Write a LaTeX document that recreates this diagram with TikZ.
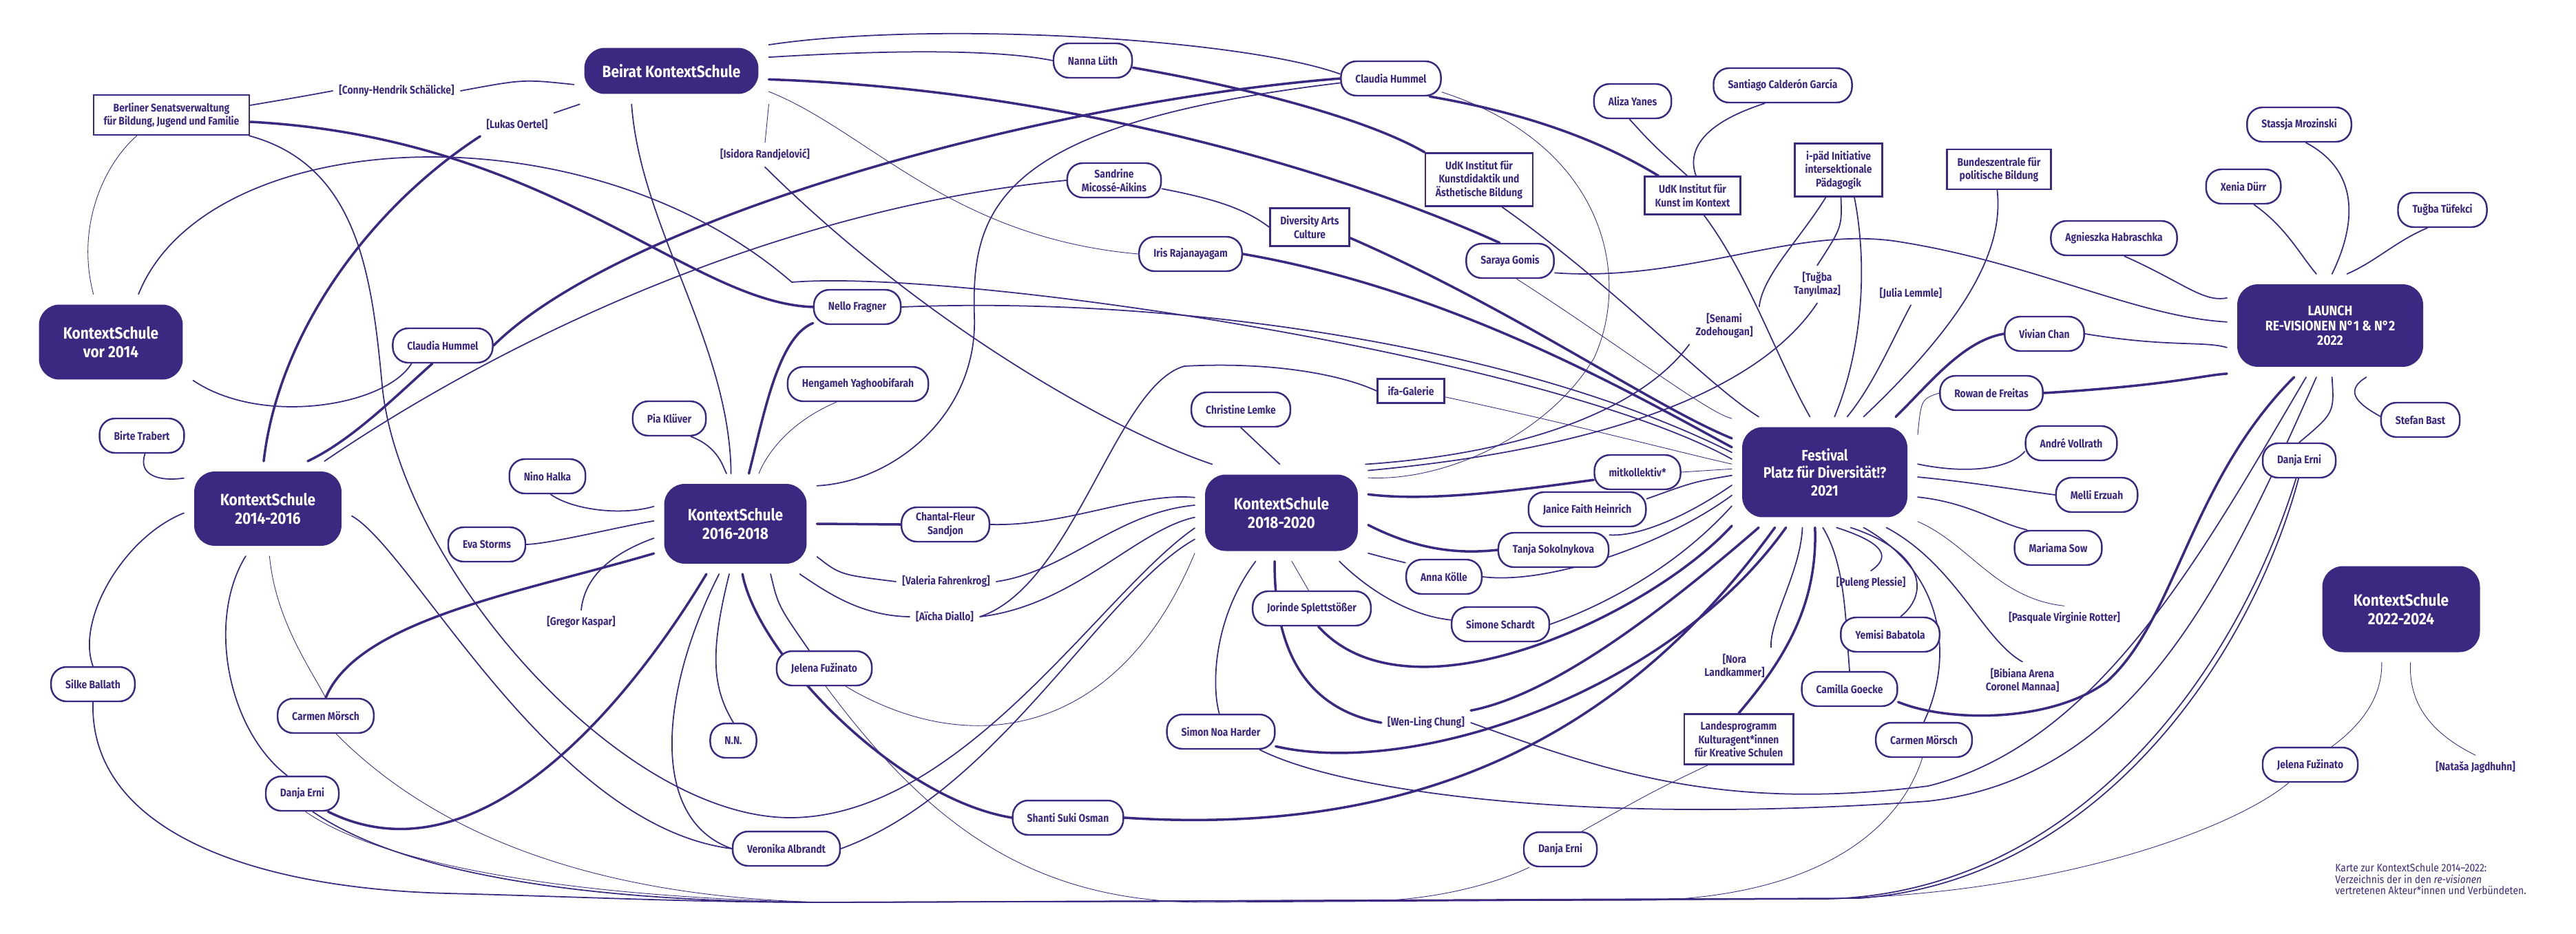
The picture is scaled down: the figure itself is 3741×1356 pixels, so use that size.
\documentclass[tikz,border=0pt]{standalone}
\usepackage{fontspec}
\setmainfont{Fira Sans}[FakeStretch=0.88]
\newfontfamily\labelfont{Fira Sans}[FakeStretch=0.86]
\usetikzlibrary{backgrounds}
\definecolor{ksviolet}{HTML}{3B2880}

\begin{document}
\begin{tikzpicture}[
    x=0.02cm, y=-0.02cm,
    hub/.style={rectangle, fill=ksviolet, text=white, rounded corners=0.6cm,
                font=\bfseries\fontsize{13.5}{15.5}\selectfont, align=center,
                outer sep=0.3cm},
    person/.style={rectangle, draw=ksviolet, line width=1.4pt, fill=white,
                   rounded corners=0.45cm, minimum height=1cm, inner xsep=0.42cm,
                   font=\labelfont\bfseries\fontsize{9.2}{11}\selectfont, text=ksviolet,
                   align=center},
    inst/.style={rectangle, draw=ksviolet, line width=1.4pt, fill=white,
                 inner xsep=0.3cm, inner ysep=0.22cm,
                 font=\labelfont\bfseries\fontsize{9.2}{11}\selectfont, text=ksviolet,
                 align=center},
    bracket/.style={font=\labelfont\bfseries\fontsize{9.2}{11}\selectfont, text=ksviolet,
                    align=center, inner sep=1pt, outer sep=0.15cm},
    note/.style={font=\fontsize{9}{9.6}\selectfont, text=ksviolet, align=left,
                 inner sep=0pt},
    thinlink/.style={draw=ksviolet, line width=0.5pt, line cap=round},
    link/.style={draw=ksviolet, line width=1pt, line cap=round},
    heavylink/.style={draw=ksviolet, line width=2pt, line cap=round},
]
\useasboundingbox (0,0) rectangle (3741,1356);

% --- hubs ---
\node[hub, minimum width=5.06cm, minimum height=1.34cm] (beirat) at (975,103) {Beirat KontextSchule};
\node[hub, minimum width=4.18cm, minimum height=2.18cm] (ks0) at (161,497) {KontextSchule\\vor 2014};
\node[hub, minimum width=4.28cm, minimum height=2.16cm] (ks14) at (389,739) {KontextSchule\\2014-2016};
\node[hub, minimum width=4.14cm, minimum height=2.32cm] (ks16) at (1068,761) {KontextSchule\\2016-2018};
\node[hub, minimum width=4.44cm, minimum height=2.22cm] (ks18) at (1861,745) {KontextSchule\\2018-2020};
\node[hub, minimum width=4.8cm, minimum height=2.62cm,
      font=\bfseries\fontsize{12.5}{14.5}\selectfont] (fest) at (2650,686) {Festival\\Platz für Diversität!?\\2021};
\node[hub, minimum width=5.4cm, minimum height=2.4cm,
      font=\bfseries\fontsize{11.5}{12.5}\selectfont] (launch) at (3384,473) {LAUNCH\\RE-VISIONEN N°1 \& N°2\\2022};
\node[hub, minimum width=4.58cm, minimum height=2.5cm] (ks22) at (3487,885) {KontextSchule\\2022-2024};

% --- institutions ---
\node[inst] (senat) at (249,167) {Berliner Senatsverwaltung\\für Bildung, Jugend und Familie};
\node[inst] (dac) at (1902,330) {Diversity Arts\\Culture};
\node[inst] (udkkd) at (2148,261) {UdK Institut für\\Kunstdidaktik und\\Ästhetische Bildung};
\node[inst] (udkkik) at (2458,284) {UdK Institut für\\Kunst im Kontext};
\node[inst] (ipaed) at (2670,247) {i-päd Initiative\\intersektionale\\Pädagogik};
\node[inst] (bpb) at (2903,246) {Bundeszentrale für\\politische Bildung};
\node[inst] (ifa) at (2049,568) {ifa-Galerie};
\node[inst] (kulturagent) at (2525,1074) {Landesprogramm\\Kulturagent*innen\\für Kreative Schulen};

% --- people ---
\node[person] (hummelB) at (643,502) {Claudia Hummel};
\node[person] (trabert) at (206,633) {Birte Trabert};
\node[person] (luth) at (1587,88) {Nanna Lüth};
\node[person] (sandrine) at (1618,262) {Sandrine\\Micossé-Aikins};
\node[person] (iris) at (1729,369) {Iris Rajanayagam};
\node[person] (nello) at (1245,446) {Nello Fragner};
\node[person] (hengameh) at (1246,558) {Hengameh Yaghoobifarah};
\node[person] (pia) at (972,608) {Pia Klüver};
\node[person] (lemke) at (1802,595) {Christine Lemke};
\node[person] (hummelA) at (2020,114) {Claudia Hummel};
\node[person] (aliza) at (2371,147) {Aliza Yanes};
\node[person] (santiago) at (2589,124) {Santiago Calderón García};
\node[person] (saraya) at (2193,379) {Saraya Gomis};
\node[person] (stassja) at (3339,181) {Stassja Mrozinski};
\node[person] (xenia) at (3258,271) {Xenia Dürr};
\node[person] (tufekci) at (3547,305) {Tuğba Tüfekci};
\node[person] (agnieszka) at (3070,346) {Agnieszka Habraschka};
\node[person] (vivian) at (2969,485) {Vivian Chan};
\node[person] (rowan) at (2892,571) {Rowan de Freitas};
\node[person] (bast) at (3515,610) {Stefan Bast};
\node[person] (vollrath) at (3008,644) {André Vollrath};
\node[person] (erniR) at (3339,669) {Danja Erni};
\node[person] (halka) at (795,692) {Nino Halka};
\node[person] (storms) at (707,791) {Eva Storms};
\node[person] (ballath) at (135,994) {Silke Ballath};
\node[person] (moerschL) at (473,1040) {Carmen Mörsch};
\node[person] (erniL) at (439,1153) {Danja Erni};
\node[person] (sandjon) at (1373,762) {Chantal-Fleur\\Sandjon};
\node[person] (fuzinatoM) at (1197,971) {Jelena Fužinato};
\node[person] (nn) at (1065,1076) {N.N.};
\node[person] (osman) at (1551,1188) {Shanti Suki Osman};
\node[person] (albrandt) at (1142,1233) {Veronika Albrandt};
\node[person] (harder) at (1773,1063) {Simon Noa Harder};
\node[person] (splett) at (1905,884) {Jorinde Splettstößer};
\node[person] (mitkoll) at (2378,686) {mitkollektiv*};
\node[person] (heinrich) at (2305,740) {Janice Faith Heinrich};
\node[person] (sokol) at (2256,799) {Tanja Sokolnykova};
\node[person] (koelle) at (2097,838) {Anna Kölle};
\node[person] (schardt) at (2179,907) {Simone Schardt};
\node[person] (erniB) at (2266,1234) {Danja Erni};
\node[person] (babatola) at (2745,922) {Yemisi Babatola};
\node[person] (goecke) at (2686,1001) {Camilla Goecke};
\node[person] (moerschR) at (2794,1075) {Carmen Mörsch};
\node[person] (erzuah) at (3045,719) {Melli Erzuah};
\node[person] (sow) at (2989,796) {Mariama Sow};
\node[person] (fuzinatoR) at (3355,1111) {Jelena Fužinato};

% --- bracketed names ---
\node[bracket] (schaelicke) at (576,132) {[Conny-Hendrik Schälicke]};
\node[bracket] (oertel) at (751,181) {[Lukas Oertel]};
\node[bracket] (randjelovic) at (1111,225) {[Isidora Randjelović]};
\node[bracket] (kaspar) at (844,904) {[Gregor Kaspar]};
\node[bracket] (fahrenkrog) at (1374,845) {[Valeria Fahrenkrog]};
\node[bracket] (diallo) at (1372,896) {[Aïcha Diallo]};
\node[bracket] (tanyilmaz) at (2639,413) {[Tuğba\\Tanyılmaz]};
\node[bracket] (zodehougan) at (2504,473) {[Senami\\Zodehougan]};
\node[bracket] (lemmle) at (2775,426) {[Julia Lemmle]};
\node[bracket] (chung) at (2071,1050) {[Wen-Ling Chung]};
\node[bracket] (landkammer) at (2519,967) {[Nora\\Landkammer]};
\node[bracket] (plessie) at (2717,847) {[Puleng Plessie]};
\node[bracket] (rotter) at (2998,898) {[Pasquale Virginie Rotter]};
\node[bracket] (mannaa) at (2937,988) {[Bibiana Arena\\Coronel Mannaa]};
\node[bracket] (jagdhuhn) at (3595,1115) {[Nataša Jagdhuhn]};

% --- caption ---
\node[note, anchor=north west] (legend) at (3391,1254)
    {Karte zur KontextSchule 2014–2022:\\Verzeichnis der in den \textit{re-visionen}\\vertretenen Akteur*innen und Verbündeten.};

\begin{scope}[on background layer]
% ============== Beirat ==============
\draw[link] (beirat.188) .. controls (760,115) .. (schaelicke.east);
\draw[link] (schaelicke.west) .. controls (440,140) .. (senat.7);
\draw[link] (beirat.200) -- (oertel.north east);
\draw[heavylink] (oertel.south west) .. controls (540,300) and (405,480) .. (ks14.95);
\draw[link] (beirat.15) .. controls (1350,30) and (1800,55) .. (hummelA.175);
\draw[link] (beirat.8) .. controls (1300,72) and (1450,72) .. (luth.west);
\draw[heavylink] (beirat.-5) .. controls (1550,130) and (1950,250) .. (saraya.120);
\draw[heavylink] (luth.-10) .. controls (1800,125) and (1980,170) .. (udkkd.north west);
\draw[thinlink] (beirat.-12) .. controls (1260,190) and (1380,345) .. (iris.west);
\draw[thinlink] (beirat.south east) -- (randjelovic.north);
\draw[link] (randjelovic.south) .. controls (1330,460) and (1600,620) .. (ks18.145);
\draw[link] (beirat.-140) .. controls (930,330) and (1060,500) .. (ks16.95);

% ============== Senat, vor 2014, Claudia Hummel ==============
\draw[heavylink] (senat.-5) .. controls (800,200) and (1000,440) .. (nello.west);
\draw[link] (ks0.60) .. controls (300,180) and (850,150) .. (1150,410)
    .. controls (1400,390) and (2250,520) .. (fest.172);
\draw[thinlink] (ks0.110) .. controls (110,330) and (150,240) .. (senat.211);
\draw[link] (ks0.-25) .. controls (380,620) and (560,590) .. (hummelB.-150);
\draw[heavylink] (hummelB.-120) .. controls (570,580) and (510,640) .. (ks14.50);
\draw[heavylink] (hummelA.180) .. controls (1500,150) and (900,320) .. (hummelB.east);
\draw[link] (sandrine.west) .. controls (1150,300) and (750,480) .. (ks14.40);
\draw[link] (sandrine.-10) .. controls (1770,290) and (1810,305) .. (dac.west);
\draw[heavylink] (dac.-15) .. controls (2200,450) and (2400,590) .. (fest.160);
\draw[heavylink] (iris.east) .. controls (2100,420) and (2350,560) .. (fest.165);
\draw[link] (nello.east) .. controls (1700,430) and (2200,500) .. (fest.168);
\draw[heavylink] (nello.-160) .. controls (1130,490) and (1110,600) .. (ks16.75);
\draw[thinlink] (hengameh.-140) .. controls (1130,620) and (1105,680) .. (ks16.65);
\draw[link] (pia.-40) .. controls (1045,650) and (1050,680) .. (ks16.100);
\draw[link] (hummelA.185) .. controls (1450,180) and (1410,300) .. (1415,460)
    .. controls (1420,600) and (1300,700) .. (ks16.25);
\draw[heavylink] (hummelA.-25) .. controls (2250,170) and (2350,220) .. (udkkik.150);
\draw[thinlink] (hummelA.-15) .. controls (2330,210) and (2370,400) .. (2315,520)
    .. controls (2250,630) and (2100,700) .. (ks18.22);
\draw[link] (aliza.-100) .. controls (2400,210) .. (udkkik.105);
\draw[link] (santiago.-135) .. controls (2470,180) and (2450,220) .. (udkkik.80);
\draw[link] (udkkik.-60) .. controls (2540,400) and (2580,520) .. (fest.105);
\draw[link] (udkkd.-50) .. controls (2350,420) and (2480,560) .. (fest.140);
\draw[thinlink] (saraya.-70) .. controls (2350,500) and (2480,600) .. (fest.150);
\draw[link] (saraya.-15) .. controls (2450,410) and (2600,330) .. (2750,350)
    .. controls (2950,380) and (3100,460) .. (launch.178);

% ============== i-päd, bpb ==============
\draw[link] (ipaed.-115) .. controls (2612,350) and (2560,400) .. (zodehougan.north east);
\draw[link] (zodehougan.south west) .. controls (2380,600) and (2200,660) .. (ks18.30);
\draw[link] (ipaed.-85) .. controls (2675,330) .. (tanyilmaz.north);
\draw[link] (tanyilmaz.south) .. controls (2560,560) and (2350,650) .. (ks18.26);
\draw[link] (ipaed.-60) .. controls (2715,400) and (2700,520) .. (fest.80);
\draw[link] (lemmle.south) .. controls (2745,500) and (2720,560) .. (fest.68);
\draw[link] (bpb.-95) .. controls (2910,360) and (2860,460) .. (fest.55);

% ============== LAUNCH ==============
\draw[heavylink] (vivian.west) .. controls (2850,495) and (2800,560) .. (fest.38);
\draw[link] (vivian.east) .. controls (3150,505) and (3200,495) .. (launch.192);
\draw[thinlink] (rowan.west) .. controls (2790,580) .. (fest.22);
\draw[heavylink] (rowan.east) .. controls (3150,560) and (3200,545) .. (launch.205);
\draw[link] (agnieszka.-60) .. controls (3170,410) and (3200,440) .. (launch.165);
\draw[link] (xenia.-60) .. controls (3320,330) and (3340,370) .. (launch.105);
\draw[link] (stassja.-70) .. controls (3430,250) and (3420,330) .. (launch.88);
\draw[link] (tufekci.-130) .. controls (3480,350) and (3450,380) .. (launch.72);
\draw[link] (launch.-55) .. controls (3400,570) and (3430,590) .. (bast.175);
\draw[link] (launch.-88) .. controls (3390,600) .. (erniR.north);
\draw[heavylink] (launch.-125) .. controls (3180,700) and (3160,900) .. (3060,990)
    .. controls (2980,1050) and (2830,1050) .. (goecke.-15);
\draw[link] (launch.-115) .. controls (3200,800) and (3050,1080) .. (2800,1142)
    .. controls (2500,1180) and (2330,1120) .. (chung.east);
\draw[link] (launch.-105) .. controls (3230,850) and (3100,1130) .. (2800,1164)
    .. controls (2300,1200) and (1950,1150) .. (harder.-25);
\draw[thinlink] (ks22.-110) .. controls (3460,1020) and (3420,1060) .. (fuzinatoR.40);
\draw[thinlink] (ks22.-80) .. controls (3497,1030) and (3540,1070) .. (jagdhuhn.north);

% ============== Festival ==============
\draw[link] (fest.5) .. controls (2860,690) and (2920,680) .. (vollrath.-170);
\draw[link] (fest.-3) .. controls (2860,700) and (2930,712) .. (erzuah.west);
\draw[link] (fest.-15) .. controls (2860,730) and (2900,760) .. (sow.150);
\draw[thinlink] (fest.-28) .. controls (2860,790) and (2900,870) .. (rotter.north);
\draw[link] (fest.-42) .. controls (2840,820) and (2880,930) .. (mannaa.north);
\draw[link] (fest.-55) .. controls (2820,830) and (2840,950) .. (moerschR.north);
\draw[link] (fest.-65) .. controls (2790,800) and (2805,860) .. (babatola.60);
\draw[link] (fest.-78) .. controls (2740,790) and (2745,810) .. (plessie.north);
\draw[link] (fest.-92) .. controls (2680,820) and (2680,900) .. (goecke.north);
\draw[heavylink] (fest.-100) .. controls (2640,880) and (2590,960) .. (kulturagent.north);
\draw[link] (fest.-112) .. controls (2615,830) and (2570,900) .. (landkammer.north east);
\draw[heavylink] (fest.-125) .. controls (2420,1010) and (2050,1130) .. (harder.-15);
\draw[heavylink] (fest.-132) .. controls (2350,1080) and (2050,1215) .. (osman.east);
\draw[heavylink] (fest.-140) .. controls (2400,900) and (2250,1010) .. (chung.north east);
\draw[heavylink] (fest.-150) .. controls (2400,890) and (2050,1060) .. (splett.-70);
\draw[link] (fest.-160) .. controls (2420,840) and (2300,890) .. (schardt.east);
\draw[link] (fest.-166) .. controls (2420,790) and (2250,850) .. (koelle.east);
\draw[link] (fest.-172) .. controls (2450,750) and (2380,780) .. (sokol.15);
\draw[link] (fest.-178) .. controls (2460,700) .. (heinrich.10);
\draw[thinlink] (fest.178) -- (mitkoll.east);
\draw[thinlink] (ifa.-10) .. controls (2300,620) and (2450,660) .. (fest.175);

% ============== 2018-2020 ==============
\draw[heavylink] (ks18.12) .. controls (2080,730) and (2220,710) .. (mitkoll.-170);
\draw[heavylink] (ks18.-8) .. controls (2060,800) and (2120,805) .. (sokol.west);
\draw[link] (ks18.-25) .. controls (2010,810) .. (koelle.160);
\draw[link] (ks18.-40) .. controls (1990,860) and (2050,895) .. (schardt.175);
\draw[thinlink] (ks18.-78) -- (splett.100);
\draw[heavylink] (ks18.-98) .. controls (1850,950) and (1900,1030) .. (chung.west);
\draw[link] (ks18.-118) .. controls (1760,900) and (1760,1000) .. (harder.95);
\draw[link] (lemke.-90) -- (ks18.92);
\draw[link] (ks18.170) .. controls (1650,715) and (1550,765) .. (sandjon.east);
\draw[link] (fahrenkrog.east) .. controls (1550,830) and (1620,745) .. (ks18.175);
\draw[link] (diallo.east) .. controls (1560,880) and (1650,770) .. (ks18.183);
\draw[link] (diallo.east) .. controls (1560,850) and (1620,560) .. (1720,532)
    .. controls (1850,525) and (1950,545) .. (ifa.west);
\draw[link] (senat.-15) .. controls (520,240) and (540,400) .. (555,560)
    .. controls (580,820) and (900,1190) .. (1150,1188)
    .. controls (1400,1185) and (1600,860) .. (ks18.190);
\draw[link] (albrandt.east) .. controls (1450,1150) and (1600,860) .. (ks18.197);
\draw[thinlink] (fuzinatoM.-40) .. controls (1400,1100) and (1620,1080) .. (ks18.205);

% ============== 2016-2018 ==============
\draw[heavylink] (ks16.-82) .. controls (1100,950) and (1300,1160) .. (osman.west);
\draw[link] (ks16.-55) .. controls (1130,880) .. (fuzinatoM.130);
\draw[link] (ks16.-97) .. controls (1030,950) and (1035,1000) .. (nn.north);
\draw[link] (ks16.-108) .. controls (960,1000) and (940,1190) .. (albrandt.west);
\draw[heavylink] (ks16.-120) .. controls (920,1010) and (700,1290) .. (erniL.-35);
\draw[heavylink] (ks16.east) -- (sandjon.west);
\draw[link] (ks16.-22) .. controls (1220,835) .. (fahrenkrog.west);
\draw[link] (ks16.-38) .. controls (1200,860) and (1250,895) .. (diallo.west);
\draw[link] (ks16.168) .. controls (900,750) and (830,740) .. (halka.-80);
\draw[link] (ks16.178) .. controls (900,765) and (800,790) .. (storms.east);
\draw[link] (ks16.190) .. controls (900,800) and (850,830) .. (kaspar.north);
\draw[heavylink] (ks16.200) .. controls (760,860) and (520,900) .. (moerschL.north);

% ============== 2014-2016 ==============
\draw[link] (ks14.160) .. controls (230,700) and (200,690) .. (trabert.-80);
\draw[link] (ks14.183) .. controls (180,780) and (110,900) .. (ballath.north);
\draw[link] (ks14.-115) .. controls (300,900) and (330,1060) .. (erniL.130);
\draw[thinlink] (ks14.-88) .. controls (400,900) and (450,970) .. (moerschL.north);
\draw[link] (ks14.-5) .. controls (600,800) and (800,1200) .. (albrandt.west);

% ============== bottom bundle ==============
\draw[link] (ballath.south) .. controls (130,1200) and (350,1290) .. (650,1298)
    .. controls (850,1303) and (1000,1311) .. (1200,1311) -- (2650,1306)
    .. controls (3000,1300) and (3240,1000) .. (erniR.-100);
\draw[link] (erniL.-60) .. controls (600,1280) and (900,1311) .. (1200,1311) -- (2700,1305)
    .. controls (3050,1280) and (3270,950) .. (erniR.-92);
\draw[thinlink] (erniL.-80) .. controls (560,1260) and (850,1305) .. (1200,1311) -- (2000,1309)
    .. controls (2100,1305) and (2180,1280) .. (erniB.-150);
\draw[thinlink] (moerschL.-60) .. controls (650,1230) and (900,1305) .. (1200,1311) -- (2400,1308)
    .. controls (2650,1300) and (2760,1200) .. (moerschR.-95);
\draw[thinlink] (fuzinatoM.-85) .. controls (1350,1200) and (1500,1311) .. (1750,1311) -- (2650,1306)
    .. controls (3000,1298) and (3250,1200) .. (fuzinatoR.-140);
\draw[thinlink] (erniB.40) .. controls (2400,1150) .. (kulturagent.-140);
\end{scope}

\end{tikzpicture}
\end{document}
